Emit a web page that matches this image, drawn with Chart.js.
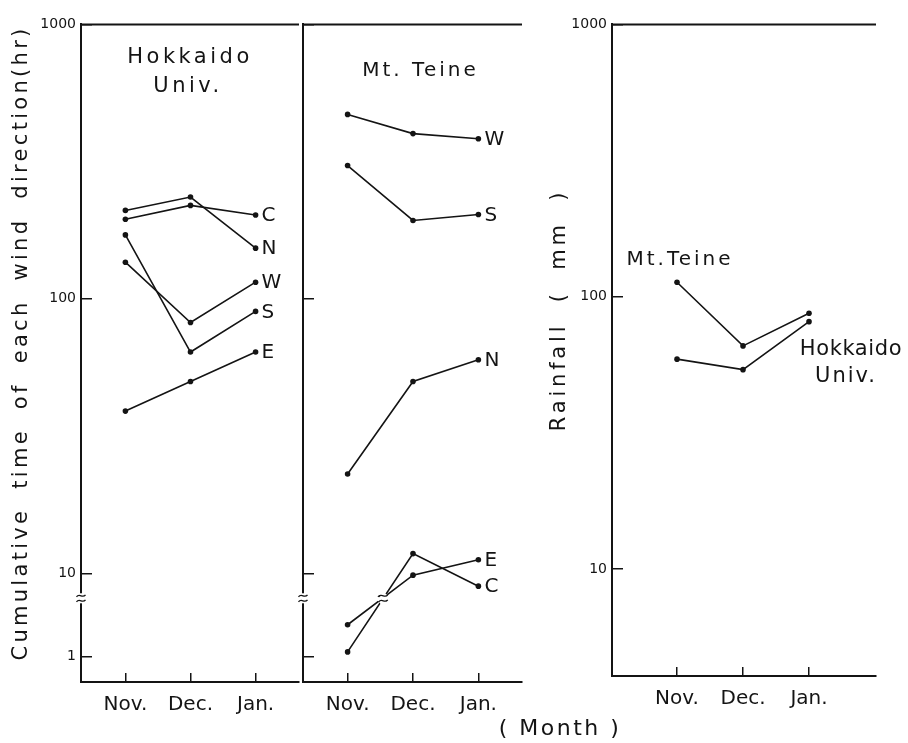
<!DOCTYPE html>
<html>
<head>
<meta charset="utf-8">
<script src="https://cdn.jsdelivr.net/npm/chart.js@4.4.0/dist/chart.umd.min.js"></script>
<style>
  html, body { margin: 0; padding: 0; background: #fff; }
  #wrap { position: relative; width: 908px; height: 743px; overflow: hidden; background: #fff; }
  canvas { position: absolute; top: 0; }
</style>
</head>
<body>
<div id="wrap">
  <canvas id="hu" width="303" height="743" style="left:0px"></canvas>
  <canvas id="mt" width="350" height="743" style="left:290px"></canvas>
  <canvas id="rain" width="368" height="743" style="left:540px"></canvas>
</div>
<script>
const months = ['Nov.', 'Dec.', 'Jan.'];

// cumulative time of each wind direction (hr), Hokkaido Univ.
const huC = [195, 219, 202];
const huN = [210, 235, 153];
const huW = [136, 82, 115];
const huS = [171, 64, 90];
const huE = [39, 50, 64];

// cumulative time of each wind direction (hr), Mt. Teine
const mtW = [470, 400, 383];
const mtS = [306, 193, 203];
const mtN = [23, 50, 60];
const mtE = [2.4, 9.5, 11.2];
const mtC = [1.13, 11.8, 7.0];

// rainfall (mm)
const rainMt = [113, 66, 87];
const rainHu = [59, 54, 81];

const windTicks = [1, 10, 100, 1000];
const rainTicks = [10, 100, 1000];
const breakValue = 5; // axis is broken between 1 and 10

const INK = '#141414';
Chart.defaults.font.family = "'DejaVu Sans', sans-serif";
Chart.defaults.color = INK;

// below 10 the log axis is squeezed (broken axis)
const SQUEEZE = 83 / 274.5;
function tf(v) {
  const l = Math.log10(v);
  return l >= 1 ? l : 1 - (1 - l) * SQUEEZE;
}

function lineSets(series, map) {
  return series.map(([name, vals]) => ({
    label: name,
    data: vals.map((v, i) => ({ x: i, y: map(v) })),
    borderColor: INK,
    backgroundColor: INK,
    borderWidth: 1.6,
    pointRadius: 2.8,
    pointBorderWidth: 0,
    pointBackgroundColor: INK,
    tension: 0
  }));
}

function drawText(ctx, str, x, y, o) {
  ctx.save();
  ctx.font = (o.size || 20) + "px 'DejaVu Sans', sans-serif";
  ctx.fillStyle = INK;
  ctx.textAlign = o.align || 'center';
  ctx.textBaseline = 'middle';
  if ('letterSpacing' in ctx) ctx.letterSpacing = (o.ls || 0) + 'px';
  if ('wordSpacing' in ctx) ctx.wordSpacing = (o.ws || 0) + 'px';
  ctx.translate(x, y);
  if (o.rot) ctx.rotate(o.rot);
  ctx.fillText(str, 0, 0);
  ctx.restore();
}

function tilde(ctx, x, y, w) {
  ctx.beginPath();
  ctx.moveTo(x - w / 2, y + 1);
  ctx.bezierCurveTo(x - w / 6, y - 3, x + w / 6, y + 3, x + w / 2, y - 1);
  ctx.stroke();
}

function breakMark(ctx, x, y, angle) {
  ctx.save();
  ctx.translate(x, y);
  ctx.save();
  ctx.rotate(angle);
  ctx.fillStyle = '#fff';
  ctx.fillRect(-5, -4, 10, 8);
  ctx.restore();
  ctx.strokeStyle = INK;
  ctx.lineWidth = 1.3;
  tilde(ctx, 0, -2.5, 9);
  tilde(ctx, 0, 2.5, 9);
  ctx.restore();
}

const frame = {
  id: 'frame',
  afterDraw(chart) {
    const { ctx, chartArea: a } = chart;
    ctx.save();
    ctx.strokeStyle = INK;
    ctx.lineWidth = 2;
    ctx.beginPath();
    ctx.moveTo(a.left - 1, a.top);
    ctx.lineTo(a.right, a.top);
    ctx.stroke();
    ctx.restore();
  }
};

// end-of-line direction letters and the axis / line breaks
const windMarks = {
  id: 'windMarks',
  afterDraw(chart) {
    const { ctx, chartArea: a } = chart;
    const y = chart.scales.y;
    const yb = y.getPixelForValue(tf(breakValue));
    breakMark(ctx, a.left, yb, Math.PI / 2);
    chart.data.datasets.forEach((ds, i) => {
      const pts = chart.getDatasetMeta(i).data;
      for (let k = 0; k < pts.length - 1; k++) {
        const p = pts[k], q = pts[k + 1];
        if ((p.y - yb) * (q.y - yb) < 0) {
          const f = (yb - p.y) / (q.y - p.y);
          breakMark(ctx, p.x + f * (q.x - p.x), yb, Math.atan2(q.y - p.y, q.x - p.x));
        }
      }
      const last = pts[pts.length - 1];
      drawText(ctx, ds.label, last.x + 6, last.y + 1, { size: 20, align: 'left' });
    });
  }
};

function monthAxis(min, max, height) {
  return {
    type: 'linear', min: min, max: max,
    afterBuildTicks: s => { s.ticks = months.map((m, i) => ({ value: i })); },
    afterFit: s => { s.height = height; },
    ticks: { callback: (v, i) => months[i], font: { size: 20 }, padding: 20, autoSkip: false, maxRotation: 0 },
    grid: { drawOnChartArea: false, tickLength: -9, color: INK, lineWidth: 1.5 },
    border: { color: INK, width: 2 }
  };
}

function windAxis(width, showLabels) {
  return {
    type: 'linear', min: tf(0.49), max: tf(1000),
    afterBuildTicks: s => { s.ticks = windTicks.map(v => ({ value: tf(v) })); },
    afterFit: s => { s.width = width; },
    ticks: { callback: (v, i) => showLabels ? String(windTicks[i]) : '', font: { size: 14 }, padding: 16 },
    grid: { drawOnChartArea: false, tickLength: -11, color: INK, lineWidth: 1.5 },
    border: { color: INK, width: 2 }
  };
}

function baseOptions(padTop, padRight, scales) {
  return {
    responsive: false,
    animation: false,
    events: [],
    layout: { padding: { top: padTop, right: padRight, left: 0, bottom: 0 } },
    plugins: { legend: { display: false }, tooltip: { enabled: false } },
    scales: scales
  };
}

new Chart(document.getElementById('hu'), {
  type: 'line',
  data: { datasets: lineSets([['C', huC], ['N', huN], ['W', huW], ['S', huS], ['E', huE]], tf) },
  options: baseOptions(24, 1, { x: monthAxis(-0.682, 2.667, 61), y: windAxis(81, true) }),
  plugins: [frame, windMarks, {
    id: 'huText',
    afterDraw(chart) {
      const { ctx, chartArea: a } = chart;
      const cx = (a.left + a.right) / 2;
      drawText(ctx, 'Hokkaido', cx, a.top + 33, { size: 21, ls: 3.5 });
      drawText(ctx, 'Univ.', cx - 2, a.top + 62, { size: 21, ls: 3.5 });
      drawText(ctx, 'Cumulative time of each wind direction(hr)', 22, 343,
        { size: 21, ls: 3.3, ws: 9, rot: -Math.PI / 2 });
    }
  }]
});

new Chart(document.getElementById('mt'), {
  type: 'line',
  data: { datasets: lineSets([['W', mtW], ['S', mtS], ['N', mtN], ['E', mtE], ['C', mtC]], tf) },
  options: baseOptions(24, 118, { x: monthAxis(-0.682, 2.667, 61), y: windAxis(13, false) }),
  plugins: [frame, windMarks, {
    id: 'mtText',
    afterDraw(chart) {
      const { ctx, chartArea: a } = chart;
      drawText(ctx, 'Mt. Teine', (a.left + a.right) / 2 + 8, a.top + 46, { size: 20, ls: 3 });
      drawText(ctx, '( Month )', 270, 729, { size: 22, ls: 2.5 });
    }
  }]
});

new Chart(document.getElementById('rain'), {
  type: 'line',
  data: { datasets: lineSets([['Mt.Teine', rainMt], ['Hokkaido Univ.', rainHu]], v => v) },
  options: baseOptions(18, 32, {
    x: monthAxis(-0.985, 3.015, 67),
    y: {
      type: 'logarithmic', min: 4.05, max: 1000,
      afterBuildTicks: s => { s.ticks = rainTicks.map(v => ({ value: v })); },
      afterFit: s => { s.width = 72; },
      ticks: { callback: (v, i) => String(rainTicks[i]), font: { size: 14 }, padding: 16 },
      grid: { drawOnChartArea: false, tickLength: -11, color: INK, lineWidth: 1.5 },
      border: { color: INK, width: 2 }
    }
  }),
  plugins: [frame, {
    id: 'rainText',
    afterDraw(chart) {
      const { ctx } = chart;
      const mt = chart.getDatasetMeta(0).data;
      const hu = chart.getDatasetMeta(1).data;
      drawText(ctx, 'Mt.Teine', mt[0].x + 3, mt[0].y - 22, { size: 20, ls: 3 });
      drawText(ctx, 'Hokkaido', hu[2].x + 42, hu[2].y + 28, { size: 21, ls: 0.6 });
      drawText(ctx, 'Univ.', hu[2].x + 37, hu[2].y + 55, { size: 21, ls: 2 });
      drawText(ctx, 'Rainfall ( mm )', 20, 310, { size: 21, ls: 3.8, ws: 10, rot: -Math.PI / 2 });
    }
  }]
});
</script>
</body>
</html>
